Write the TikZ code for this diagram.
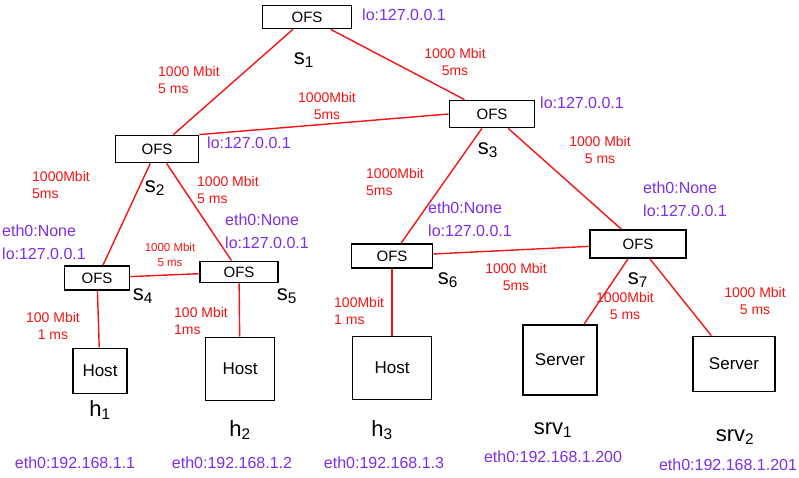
\documentclass[tikz,border=0pt]{standalone}
\usepackage{fontspec}
\setmainfont{Liberation Sans}
\usetikzlibrary{positioning}
\definecolor{linkred}{RGB}{245,20,20}
\definecolor{addrpurple}{RGB}{125,45,235}

\begin{document}
\begin{tikzpicture}[
    x=1pt, y=-1pt,
    switch/.style={draw, line width=1.8pt, inner sep=0pt,
                   font=\fontsize{15}{15}\selectfont},
    endhost/.style={draw, line width=1.8pt, inner sep=0pt,
                    font=\fontsize{17}{17}\selectfont},
    link/.style={draw=linkred, line width=1.4pt},
    linklabel/.style={text=linkred, align=center, inner sep=0pt,
                      font=\fontsize{14}{17}\selectfont},
    addr/.style={text=addrpurple, align=left, inner sep=0pt,
                 font=\fontsize{16}{23}\selectfont},
    devname/.style={inner sep=0pt, font=\fontsize{22}{22}\selectfont},
  ]
  \useasboundingbox (0,0) rectangle (799,477);

  % switches
  \node[switch, minimum width=89pt, minimum height=23pt] (s1) at (307,17) {OFS};
  \node[switch, minimum width=83pt, minimum height=27pt] (s2) at (157,149) {OFS};
  \node[switch, minimum width=85pt, minimum height=27pt] (s3) at (492,114) {OFS};
  \node[switch, minimum width=65pt, minimum height=24pt] (s4) at (97,278) {OFS};
  \node[switch, minimum width=78pt, minimum height=21pt] (s5) at (239,272) {OFS};
  \node[switch, minimum width=81pt, minimum height=24pt] (s6) at (392,256) {OFS};
  \node[switch, minimum width=96pt, minimum height=28pt] (s7) at (638,244) {OFS};

  % hosts and servers
  \node[endhost, minimum width=54pt, minimum height=45pt] (h1) at (100,371) {Host};
  \node[endhost, minimum width=69pt, minimum height=63pt] (h2) at (240,369) {Host};
  \node[endhost, minimum width=79pt, minimum height=63pt] (h3) at (392,368) {Host};
  \node[endhost, minimum width=74pt, minimum height=70pt] (srv1) at (560,360) {Server};
  \node[endhost, minimum width=82pt, minimum height=55pt] (srv2) at (734,364) {Server};

  % links
  \draw[link] (s1) -- (s2);
  \draw[link] (s1) -- (s3);
  \draw[link] (s2.north east) -- (s3.west);
  \draw[link] (s2) -- (s4);
  \draw[link] (s2) -- (s5);
  \draw[link] (s4) -- (s5);
  \draw[link] (s3) -- (s6);
  \draw[link] (s3) -- (s7);
  \draw[link] (s6) -- (s7);
  \draw[link] (s4) -- (h1);
  \draw[link] (s5) -- (h2);
  \draw[link] (s6) -- (h3);
  \draw[link] (s7) -- (srv1);
  \draw[link] (s7) -- (srv2);

  % link labels
  \node[linklabel, align=left, anchor=west] (l12) at (158,80) {1000 Mbit\\5 ms};
  \node[linklabel] (l13) at (455,62) {1000 Mbit\\5ms};
  \node[linklabel] (l23) at (327,106) {1000Mbit\\5ms};
  \node[linklabel, align=left, anchor=west] (l24) at (32,185) {1000Mbit\\5ms};
  \node[linklabel, align=left, anchor=west] (l25) at (197,190) {1000 Mbit\\5 ms};
  \node[linklabel, font=\fontsize{11.5}{15}\selectfont] (l45) at (170,255) {1000 Mbit\\5 ms};
  \node[linklabel, align=left, anchor=west] (l36) at (366,182) {1000Mbit\\5ms};
  \node[linklabel] (l37) at (600,150) {1000 Mbit\\5 ms};
  \node[linklabel] (l67) at (516,277) {1000 Mbit\\5ms};
  \node[linklabel] (l7a) at (625,306) {1000Mbit\\5 ms};
  \node[linklabel] (l7b) at (755,301) {1000 Mbit\\5 ms};
  \node[linklabel] (l4h) at (53,326) {100 Mbit\\1 ms};
  \node[linklabel, align=left, anchor=west] (l5h) at (174,321) {100 Mbit\\1ms};
  \node[linklabel, align=left, anchor=west] (l6h) at (334,311) {100Mbit\\1 ms};

  % device names
  \node[devname] (n1) at (304,60) {s\textsubscript{1}};
  \node[devname] (n2) at (155,188) {s\textsubscript{2}};
  \node[devname] (n3) at (488,150) {s\textsubscript{3}};
  \node[devname] (n4) at (143,296) {s\textsubscript{4}};
  \node[devname] (n5) at (287,296) {s\textsubscript{5}};
  \node[devname] (n6) at (448,280) {s\textsubscript{6}};
  \node[devname] (n7) at (638,280) {s\textsubscript{7}};
  \node[devname] (nh1) at (100,410) {h\textsubscript{1}};
  \node[devname] (nh2) at (240,430) {h\textsubscript{2}};
  \node[devname] (nh3) at (382,430) {h\textsubscript{3}};
  \node[devname] (nsrv1) at (553,430) {srv\textsubscript{1}};
  \node[devname] (nsrv2) at (735,437) {srv\textsubscript{2}};

  % addresses
  \node[addr, anchor=west] (a1) at (362,15) {lo:127.0.0.1};
  \node[addr, anchor=west] (a2) at (207,143) {lo:127.0.0.1};
  \node[addr, anchor=west] (a3) at (540,103) {lo:127.0.0.1};
  \node[addr, anchor=north west] (a4) at (2,225) {eth0:None\\lo:127.0.0.1};
  \node[addr, anchor=north west] (a5) at (225,214) {eth0:None\\lo:127.0.0.1};
  \node[addr, anchor=north west] (a6) at (428,202) {eth0:None\\lo:127.0.0.1};
  \node[addr, anchor=north west] (a7) at (643,182) {eth0:None\\lo:127.0.0.1};
  \node[addr] (ah1) at (75,463) {eth0:192.168.1.1};
  \node[addr] (ah2) at (232,463) {eth0:192.168.1.2};
  \node[addr] (ah3) at (384,463) {eth0:192.168.1.3};
  \node[addr] (asrv1) at (553,457) {eth0:192.168.1.200};
  \node[addr] (asrv2) at (728,465) {eth0:192.168.1.201};
\end{tikzpicture}
\end{document}
